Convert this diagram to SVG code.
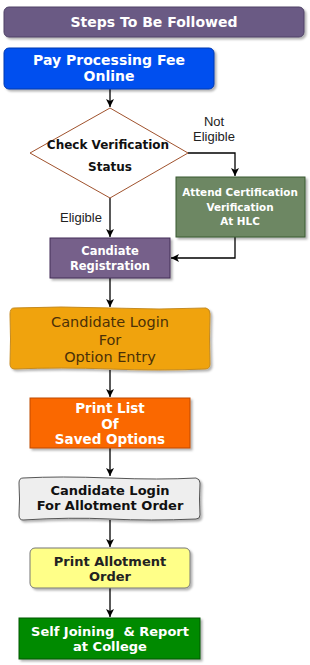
<svg xmlns="http://www.w3.org/2000/svg" width="310" height="665" viewBox="0 0 310 665">
<defs>
<filter id="sh" x="-10%" y="-10%" width="130%" height="140%">
<feDropShadow dx="2" dy="2" stdDeviation="1" flood-color="#000" flood-opacity="0.3"/>
</filter>
<marker id="ah" markerWidth="10" markerHeight="10" refX="9" refY="5" orient="auto" markerUnits="userSpaceOnUse">
<path d="M1,1 L9,5 L1,9 L3,5 Z" fill="#000"/>
</marker>
</defs>
<style>
.b{font-family:"DejaVu Sans",Verdana,sans-serif;font-weight:bold;text-anchor:middle}
.w{fill:#fff}
.k{fill:#111}
.n{font-family:"DejaVu Sans",Verdana,sans-serif;text-anchor:middle}
.l{font-family:"Liberation Sans",Arial,sans-serif;font-size:13px;fill:#222;text-anchor:middle}
.c{fill:none;stroke:#000;stroke-width:1.3;marker-end:url(#ah)}
</style>
<rect width="310" height="665" fill="#fff"/>
<g id="connectors">
<path class="c" d="M110,89 V107"/>
<path class="c" d="M188,153 H235 V176"/>
<path class="c" d="M110,198 V237"/>
<path class="c" d="M235,237 V258 H171"/>
<path class="c" d="M110,278 V307"/>
<path class="c" d="M110,370 V397"/>
<path class="c" d="M110,448 V476"/>
<path class="c" d="M110,520 V547"/>
<path class="c" d="M110,588 V617"/>
<text class="l" x="214" y="126">Not</text>
<text class="l" x="214" y="141">Eligible</text>
<text class="l" x="81" y="222">Eligible</text>
</g>
<g id="header">
<rect x="4" y="7" width="300" height="30" rx="5" fill="#6a5a84" stroke="#4e4266" stroke-width="1" filter="url(#sh)"/>
<text class="b w" x="154" y="27" font-size="14">Steps To Be Followed</text>
</g>
<g id="pay">
<rect x="4" y="48" width="210" height="41" rx="5" fill="#0050ef" stroke="#0038b0" stroke-width="1" filter="url(#sh)"/>
<text class="b w" x="109" y="65" font-size="14">Pay Processing Fee</text>
<text class="b w" x="109" y="81" font-size="14">Online</text>
</g>
<g id="check">
<polygon points="110,108 188,153 110,198 30,153" fill="#fff" stroke="#a0522d" stroke-width="1"/>
<text class="b k" x="108" y="149" font-size="12">Check Verification</text>
<text class="b k" x="110" y="171" font-size="12">Status</text>
</g>
<g id="attend">
<rect x="176" y="177" width="129" height="60" fill="#6d8764" stroke="#3a5a30" stroke-width="1" filter="url(#sh)"/>
<text class="b w" x="240" y="196" font-size="10.4">Attend Certification</text>
<text class="b w" x="240" y="211" font-size="10.4">Verification</text>
<text class="b w" x="240" y="225" font-size="10.4">At HLC</text>
</g>
<g id="registration">
<rect x="50" y="238" width="120" height="40" fill="#76608a" stroke="#432d57" stroke-width="1" filter="url(#sh)"/>
<text class="b w" x="110" y="255" font-size="11.5">Candiate</text>
<text class="b w" x="110" y="270" font-size="11.5">Registration</text>
</g>
<g id="optionentry">
<path d="M14,308 Q60,306 110,308 T206,308 Q210,309 210,314 Q209,339 210,364 Q210,369 205,369 Q160,371 110,369 T15,369 Q10,369 10,364 Q11,339 10,314 Q10,308 14,308 Z" fill="#f0a30a" stroke="#c58a20" stroke-width="1" filter="url(#sh)"/>
<text class="n" x="110" y="327" font-size="14.5" fill="#4a3008">Candidate Login</text>
<text class="n" x="110" y="345" font-size="14.5" fill="#4a3008">For</text>
<text class="n" x="110" y="362" font-size="14.5" fill="#4a3008">Option Entry</text>
</g>
<g id="printlist">
<rect x="30" y="398" width="160" height="50" fill="#fa6800" stroke="#c04a00" stroke-width="1" filter="url(#sh)"/>
<text class="b w" x="110" y="413" font-size="13.5">Print List</text>
<text class="b w" x="110" y="429" font-size="13.5">Of</text>
<text class="b w" x="110" y="444" font-size="13.5">Saved Options</text>
</g>
<g id="allotlogin">
<path d="M23,478 Q60,476 110,478 T196,478 Q200,479 200,483 Q199,499 200,515 Q200,519 196,519 Q150,521 110,519 T23,520 Q19,520 19,515 Q20,499 19,483 Q19,478 23,478 Z" fill="#eeeeee" stroke="#555" stroke-width="1" filter="url(#sh)"/>
<text class="b k" x="110" y="495" font-size="13">Candidate Login</text>
<text class="b k" x="110" y="510" font-size="13">For Allotment Order</text>
</g>
<g id="printallot">
<rect x="30" y="548" width="160" height="40" rx="5" fill="#ffff88" stroke="#777" stroke-width="1" filter="url(#sh)"/>
<text class="b" x="110" y="566" font-size="13" fill="#222">Print Allotment</text>
<text class="b" x="110" y="581" font-size="13" fill="#222">Order</text>
</g>
<g id="selfjoin">
<rect x="19" y="618" width="181" height="41" fill="#008a00" stroke="#005700" stroke-width="1" filter="url(#sh)"/>
<text class="b w" x="110" y="636" font-size="13" xml:space="preserve" style="white-space:pre">Self Joining  &amp; Report</text>
<text class="b w" x="110" y="651" font-size="13">at College</text>
</g>
</svg>
